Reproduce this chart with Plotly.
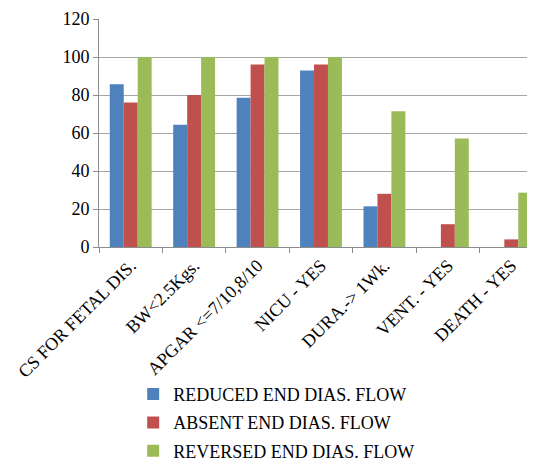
import plotly.graph_objects as go

categories = ["CS FOR FETAL DIS.", "BW<2.5Kgs.", "APGAR <=7/10,8/10", "NICU - YES",
              "DURA.-> 1Wk.", "VENT. - YES", "DEATH - YES"]
reduced = [85.7, 64.3, 78.6, 92.9, 21.4, 0, 0]
absent = [76, 80, 96, 96, 28, 12, 4]
reversed_ = [100, 100, 100, 100, 71.4, 57.1, 28.6]
series_names = ["REDUCED END DIAS. FLOW", "ABSENT END DIAS. FLOW", "REVERSED END DIAS. FLOW"]
colors = ["#4F81BD", "#C0504D", "#9BBB59"]
y_ticks = [0, 20, 40, 60, 80, 100, 120]

fig = go.Figure()
for i, (name, vals, col) in enumerate(zip(series_names, [reduced, absent, reversed_], colors)):
    fig.add_trace(go.Bar(x=categories, y=vals, name=name, marker_color=col,
                         marker_line_width=0, legendgroup=str(i)))

font_family = "Liberation Serif, Times New Roman, serif"
fig.update_layout(
    width=535, height=465,
    margin=dict(l=91, r=0, t=11, b=226, autoexpand=False),
    paper_bgcolor="white", plot_bgcolor="white",
    barmode="group", bargap=0.34, bargroupgap=0,
    font=dict(family=font_family, size=18, color="black"),
    showlegend=True,
    legend=dict(orientation="v", x=0.077, xanchor="left", y=-0.565, yanchor="top",
                traceorder="grouped", tracegroupgap=2,
                font=dict(family=font_family, size=18, color="black")),
)
fig.update_xaxes(type="category", range=[-0.5, 6.5], tickangle=-45, automargin=False,
                 showline=True, linecolor="#8c8c8c", linewidth=1,
                 ticks="outside", tickson="boundaries", ticklen=5, tickcolor="#8c8c8c",
                 showgrid=False, tickfont=dict(family=font_family, size=18))
fig.update_yaxes(range=[0, 120], tickvals=y_ticks, showline=True, linecolor="#8c8c8c",
                 linewidth=1, ticks="outside", ticklen=5, tickcolor="#8c8c8c", automargin=False,
                 showgrid=True, gridcolor="#a6a6a6", gridwidth=1, zeroline=False,
                 tickfont=dict(family=font_family, size=18))

fig.write_html("out.html")
